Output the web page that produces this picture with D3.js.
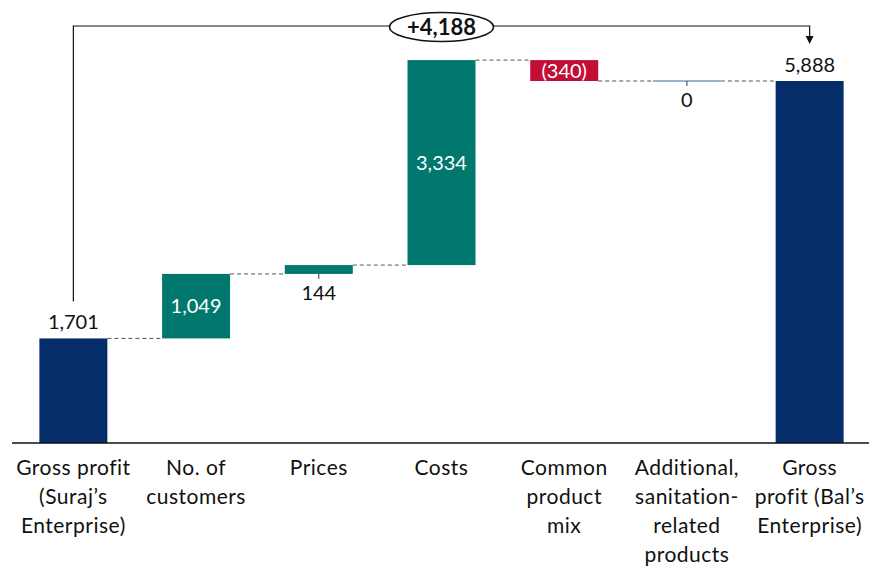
<!DOCTYPE html>
<html>
<head>
<meta charset="utf-8">
<script src="https://cdn.jsdelivr.net/npm/d3@7"></script>
<style>
  body { margin: 0; background: #fff; }
  text { font-family: Lato, "Open Sans", sans-serif; }
</style>
</head>
<body>
<script>
// Chart data
const categories = [
  ["Gross profit", "(Suraj\u2019s", "Enterprise)"],
  ["No. of", "customers"],
  ["Prices"],
  ["Costs"],
  ["Common", "product", "mix"],
  ["Additional,", "sanitation-", "related", "products"],
  ["Gross", "profit (Bal\u2019s", "Enterprise)"]
];
const values = [1701, 1049, 144, 3334, -340, 0, 5888];
const kinds = ["total", "delta", "delta", "delta", "delta", "delta", "total"];
const totalChange = 4188;

// Canvas config
const config = { width: 869, height: 571 };
const baseY = 443;

const svg = d3
  .select("body")
  .append("svg")
  .attr("width", config.width)
  .attr("height", config.height);

// Colours
const navy = "#042d69";
const teal = "#00786e";
const red = "#c20e35";
const zeroBlue = "#9fb2d4";

// Build the steps of the waterfall
let running = 0;
const steps = values.map((v, i) => {
  let y0, y1;
  if (kinds[i] === "total") {
    y0 = 0;
    y1 = v;
    running = v;
  } else {
    y0 = running;
    y1 = running + v;
    running = y1;
  }
  return { i, v, y0, y1, kind: kinds[i] };
});

// Scales
const x = d3
  .scaleBand()
  .domain(d3.range(values.length))
  .range([12, 871])
  .paddingInner(0.446)
  .paddingOuter(0.223);

const y = d3.scaleLinear().domain([0, 5888]).range([baseY, 81]);

const fmt = v => (v < 0 ? "(" + d3.format(",")(-v) + ")" : d3.format(",")(v));

// Connector dashed lines
svg
  .append("g")
  .selectAll("line")
  .data(steps.slice(0, -1))
  .join("line")
  .attr("x1", d => x(d.i) + x.bandwidth())
  .attr("x2", d => x(d.i + 1))
  .attr("y1", d => y(d.y1))
  .attr("y2", d => y(d.y1))
  .attr("stroke", "#555")
  .attr("stroke-width", 1)
  .attr("stroke-dasharray", "4,3");

// Bars
svg
  .append("g")
  .selectAll("rect")
  .data(steps)
  .join("rect")
  .attr("x", d => x(d.i))
  .attr("width", x.bandwidth())
  .attr("y", d => (d.v === 0 ? y(d.y1) - 1 : y(Math.max(d.y0, d.y1))))
  .attr("height", d => (d.v === 0 ? 2 : Math.abs(y(d.y0) - y(d.y1))))
  .attr("fill", d => {
    if (d.kind === "total") return navy;
    if (d.v === 0) return zeroBlue;
    return d.v < 0 ? red : teal;
  });

// Small leader ticks for labels placed below thin bars
const below = steps.filter(d => d.kind === "delta" && Math.abs(y(d.y0) - y(d.y1)) < 15 && d.v >= 0);
svg
  .append("g")
  .selectAll("line")
  .data(below)
  .join("line")
  .attr("x1", d => x(d.i) + x.bandwidth() / 2)
  .attr("x2", d => x(d.i) + x.bandwidth() / 2)
  .attr("y1", d => y(d.y0))
  .attr("y2", d => y(d.y0) + 5)
  .attr("stroke", "#333")
  .attr("stroke-width", 1);

// Value labels
svg
  .append("g")
  .selectAll("text")
  .data(steps)
  .join("text")
  .attr("x", d => x(d.i) + x.bandwidth() / 2)
  .attr("y", d => {
    const h = Math.abs(y(d.y0) - y(d.y1));
    if (d.kind === "total") return y(d.y1) - 9;
    if (h < 15 && d.v >= 0) return y(d.y0) + 26;
    return (y(d.y0) + y(d.y1)) / 2 + 7;
  })
  .attr("text-anchor", "middle")
  .attr("font-size", 20)
  .attr("fill", d => {
    const h = Math.abs(y(d.y0) - y(d.y1));
    if (d.kind === "total" || (h < 15 && d.v >= 0)) return "#111";
    return "#fff";
  })
  .text(d => fmt(d.v));

// Baseline axis
svg
  .append("line")
  .attr("x1", 12)
  .attr("x2", config.width)
  .attr("y1", baseY)
  .attr("y2", baseY)
  .attr("stroke", "#111")
  .attr("stroke-width", 1.5);

// Category labels
const catText = svg
  .append("g")
  .selectAll("text")
  .data(categories)
  .join("text")
  .attr("text-anchor", "middle")
  .attr("font-size", 21)
  .attr("letter-spacing", 0.5)
  .attr("fill", "#111");

catText
  .selectAll("tspan")
  .data((d, i) => d.map(line => ({ line, i })))
  .join("tspan")
  .attr("x", d => x(d.i) + x.bandwidth() / 2)
  .attr("y", (d, j) => 475 + j * 29)
  .text(d => d.line);

// Total change bracket
const bracketY = 26;
const xFirst = x(0) + x.bandwidth() / 2;
const xLast = x(values.length - 1) + x.bandwidth() / 2;
const bracket = svg.append("g");

bracket
  .append("path")
  .attr(
    "d",
    `M${xFirst},${y(values[0]) - 37} V${bracketY} H${xLast} V${bracketY + 12}`
  )
  .attr("fill", "none")
  .attr("stroke", "#111")
  .attr("stroke-width", 1.2);

bracket
  .append("path")
  .attr("d", `M${xLast - 4},${bracketY + 10} L${xLast + 4},${bracketY + 10} L${xLast},${bracketY + 18} Z`)
  .attr("fill", "#111");

const midX = (xFirst + xLast) / 2;
bracket
  .append("ellipse")
  .attr("cx", midX)
  .attr("cy", bracketY + 1)
  .attr("rx", 52)
  .attr("ry", 14.5)
  .attr("fill", "#fff")
  .attr("stroke", "#111")
  .attr("stroke-width", 1.5);

bracket
  .append("text")
  .attr("x", midX)
  .attr("y", bracketY + 9)
  .attr("text-anchor", "middle")
  .attr("font-size", 22)
  .attr("font-weight", "bold")
  .attr("fill", "#111")
  .text("+" + d3.format(",")(totalChange));
</script>
</body>
</html>
